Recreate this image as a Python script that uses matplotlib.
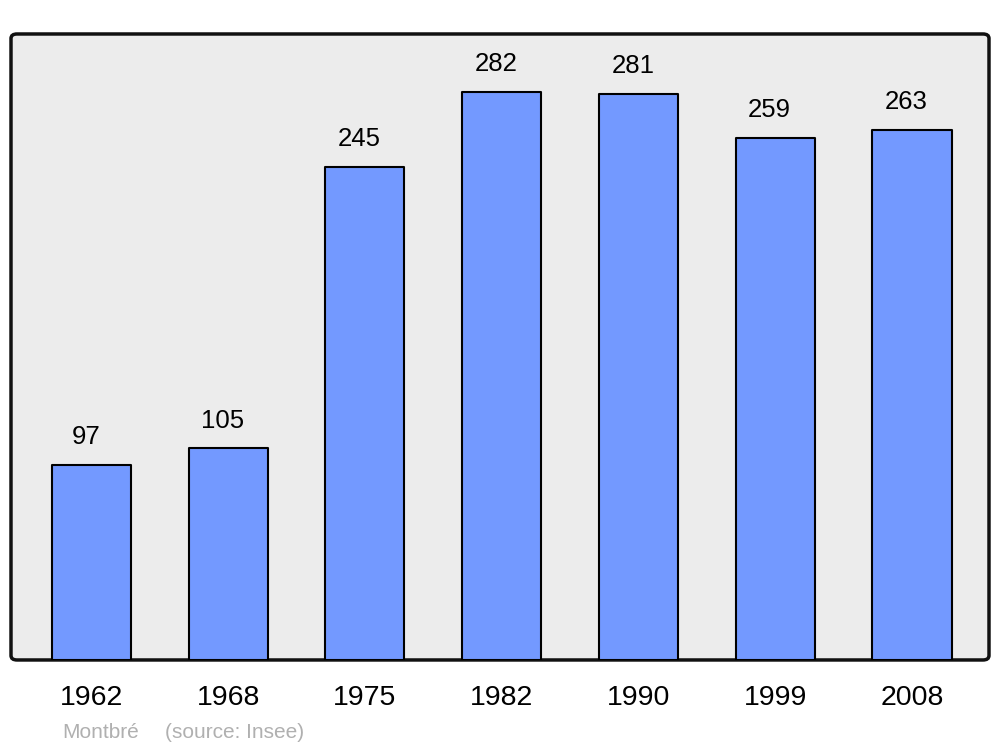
import matplotlib
matplotlib.use('Agg')
import matplotlib.pyplot as plt
from matplotlib.patches import FancyBboxPatch

plt.rcParams['font.family'] = ['Liberation Sans', 'DejaVu Sans']

years = ['1962', '1968', '1975', '1982', '1990', '1999', '2008']
population = [97, 105, 245, 282, 281, 259, 263]

fig = plt.figure(figsize=(10, 7.47), dpi=100)

# fond gris arrondi
panel = FancyBboxPatch((0.011, 0.1165), 0.978, 0.838,
                       boxstyle='round,pad=0,rounding_size=0.006',
                       transform=fig.transFigure, facecolor='#ececec',
                       edgecolor='#111111', linewidth=2.5, zorder=0)
fig.patches.append(panel)

ax = fig.add_axes([0.011, 0.1165, 0.978, 0.838])
ax.set_zorder(2)
ax.patch.set_visible(False)
for s in ax.spines.values():
    s.set_visible(False)

x = range(len(years))
ax.bar(x, population, width=0.578, color='#7399ff', edgecolor='black',
       linewidth=1.5, joinstyle='round', zorder=2)

for i, v in enumerate(population):
    ax.annotate(str(v), (i, v), xytext=(-4, 11.5), textcoords='offset points',
                ha='center', va='bottom', fontsize=18.5)

ax.set_xlim(-0.588, 6.563)
ax.set_ylim(0, 310.8)
ax.set_xticks(list(x))
ax.set_xticklabels(years, fontsize=20.5)
ax.tick_params(axis='x', length=0, pad=18)
ax.set_yticks([])

fig.text(0.062, 0.012, 'Montbré', color='#b0b0b0', fontsize=15, va='baseline')
fig.text(0.165, 0.012, '(source: Insee)', color='#b0b0b0', fontsize=15, va='baseline')

fig.savefig('out.png', dpi=100)
